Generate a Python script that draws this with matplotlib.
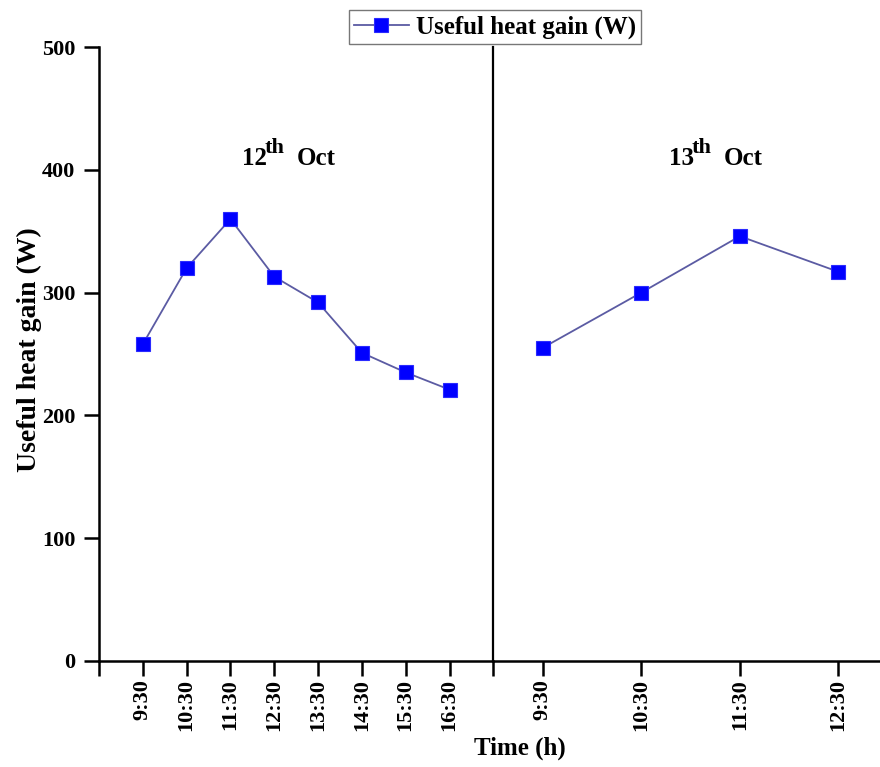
import matplotlib
matplotlib.use("Agg")
import matplotlib.pyplot as plt
from matplotlib.transforms import offset_copy

# ---- data ----
day1_times = ["9:30", "10:30", "11:30", "12:30", "13:30", "14:30", "15:30", "16:30"]
day1_gain = [258, 320, 360, 313, 292, 251, 235, 221]

day2_times = ["9:30", "10:30", "11:30", "12:30"]
day2_gain = [255, 300, 346, 317]

plt.rcParams["font.family"] = ["Liberation Serif", "DejaVu Serif"]
plt.rcParams["font.weight"] = "bold"

LINE_COLOR = "#5b5ba3"
MARKER_COLOR = "#0000ff"

fig = plt.figure(figsize=(8.8, 7.67), dpi=100)

# two panels, left one (12 Oct) and right one (13 Oct) sharing the y scale
ax1 = fig.add_axes([0.1125, 0.1385, 0.4481, 0.7999])
ax2 = fig.add_axes([0.5606, 0.1385, 0.4482, 0.7999])
ax2.patch.set_visible(False)

x1 = list(range(1, len(day1_gain) + 1))
x2 = [i + 0.5 for i in range(len(day2_gain))]

style = dict(color=LINE_COLOR, linewidth=1.3, marker="s", markersize=9.5,
             markerfacecolor=MARKER_COLOR, markeredgecolor="#2a2aff",
             markeredgewidth=0.8)

ax1.plot(x1, day1_gain, label="Useful heat gain (W)", **style)
ax2.plot(x2, day2_gain, **style)

for ax in (ax1, ax2):
    ax.set_ylim(0, 500)
    ax.spines["top"].set_visible(False)
    ax.tick_params(axis="x", direction="out", length=11, width=1.8,
                   pad=2, labelsize=16, labelrotation=90)
    ax.spines["bottom"].set_linewidth(1.8)

ax1.set_xlim(0, 9)
ax1.set_xticks(range(0, 10))
ax1.set_xticklabels([""] + day1_times + [""])
ax1.set_yticks(range(0, 501, 100))
ax1.tick_params(axis="y", direction="out", length=11, width=1.8,
                pad=6, labelsize=16)
ax1.spines["left"].set_linewidth(1.8)
ax1.spines["right"].set_linewidth(1.6)

ax2.set_xlim(0, 4)
ax2.set_xticks(x2)
ax2.set_xticklabels(day2_times)
ax2.spines["left"].set_visible(False)
ax2.spines["right"].set_visible(False)
ax2.set_yticks([])

for lbl in ax1.get_xticklabels() + ax2.get_xticklabels() + ax1.get_yticklabels():
    lbl.set_fontweight("bold")


def day_label(ax, x, y, day):
    # day number, raised "th", then the month
    ax.text(x, y, day, ha="left", va="baseline", fontsize=18)
    t_sup = offset_copy(ax.transData, fig=fig, x=23, y=12, units="dots")
    ax.text(x, y, "th", transform=t_sup, ha="left", va="baseline", fontsize=16)
    t_mon = offset_copy(ax.transData, fig=fig, x=55, y=0, units="dots")
    ax.text(x, y, "Oct", transform=t_mon, ha="left", va="baseline", fontsize=18)


day_label(ax1, 3.26, 404, "12")
day_label(ax2, 1.78, 404, "13")

fig.text(29 / 880, 1 - 350 / 767, "Useful heat gain (W)", rotation=90,
         ha="center", va="center", fontsize=20, fontweight="bold")
fig.text(520 / 880, 1 - 748 / 767, "Time (h)", ha="center", va="center",
         fontsize=18, fontweight="bold")

leg = fig.legend(loc="center", bbox_to_anchor=(495 / 880, 1 - 27 / 767),
                 fontsize=18, frameon=True, fancybox=False, handlelength=2.2,
                 handletextpad=0.3, borderpad=0.2, borderaxespad=0)
leg.get_frame().set_edgecolor("#555555")
leg.get_frame().set_linewidth(1.0)

fig.savefig("out.png", dpi=100)
